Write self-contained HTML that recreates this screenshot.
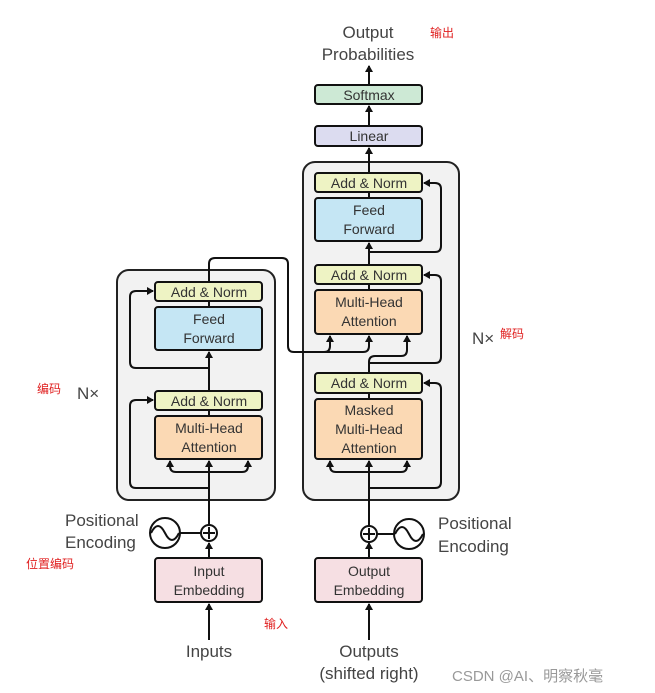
<!DOCTYPE html>
<html><head><meta charset="utf-8"><style>
html,body{margin:0;padding:0;background:#fff;}
svg{display:block;}
text{font-family:"Liberation Sans","Noto Sans CJK SC",sans-serif;}
</style></head><body>
<svg width="655" height="693" viewBox="0 0 655 693" xmlns="http://www.w3.org/2000/svg">
<defs>
<marker id="a" markerWidth="8" markerHeight="8" refX="6" refY="4" orient="auto" markerUnits="userSpaceOnUse">
<path d="M0,0 L7,4 L0,8 Z" fill="#111"/></marker>
</defs>
<!-- blocks -->
<rect x="117" y="270" width="158" height="230" rx="12" fill="#f2f2f2" stroke="#222" stroke-width="2"/>
<rect x="303" y="162" width="156" height="338" rx="12" fill="#f2f2f2" stroke="#222" stroke-width="2"/>
<g stroke="#111" stroke-width="2" fill="none">
<!-- encoder -->
<line x1="209" y1="640" x2="209" y2="604" marker-end="url(#a)"/>
<line x1="209" y1="558" x2="209" y2="543" marker-end="url(#a)"/>
<line x1="180" y1="533" x2="201" y2="533"/>
<line x1="209" y1="525" x2="209" y2="461" marker-end="url(#a)"/>
<path d="M170,462 L170,466 Q170,472 176,472 L242,472 Q248,472 248,466 L248,462"/>
<line x1="170" y1="466" x2="170" y2="461" marker-end="url(#a)"/>
<line x1="248" y1="466" x2="248" y2="461" marker-end="url(#a)"/>
<path d="M209,488 L136,488 Q130,488 130,482 L130,406 Q130,400 136,400 L153,400" marker-end="url(#a)"/>
<line x1="209" y1="416" x2="209" y2="410"/>
<line x1="209" y1="391" x2="209" y2="352" marker-end="url(#a)"/>
<path d="M209,368 L136,368 Q130,368 130,362 L130,297 Q130,291 136,291 L153,291" marker-end="url(#a)"/>
<line x1="209" y1="307" x2="209" y2="301"/>
<path d="M209,282 L209,264 Q209,258 215,258 L282,258 Q288,258 288,264 L288,346 Q288,352 294,352 L324,352 Q330,352 330,346 L330,336" marker-end="url(#a)"/>
<path d="M324,352 L363,352 Q369,352 369,346 L369,336" marker-end="url(#a)"/>
<!-- decoder -->
<line x1="369" y1="640" x2="369" y2="604" marker-end="url(#a)"/>
<line x1="369" y1="558" x2="369" y2="543" marker-end="url(#a)"/>
<line x1="377" y1="534" x2="394" y2="534"/>
<line x1="369" y1="526" x2="369" y2="461" marker-end="url(#a)"/>
<path d="M330,462 L330,466 Q330,472 336,472 L401,472 Q407,472 407,466 L407,462"/>
<line x1="330" y1="466" x2="330" y2="461" marker-end="url(#a)"/>
<line x1="407" y1="466" x2="407" y2="461" marker-end="url(#a)"/>
<path d="M369,488 L435,488 Q441,488 441,482 L441,389 Q441,383 435,383 L424,383" marker-end="url(#a)"/>
<line x1="369" y1="399" x2="369" y2="393"/>
<path d="M369,373 L369,362 Q369,356 375,356 L401,356 Q407,356 407,350 L407,336" marker-end="url(#a)"/>
<path d="M369,363 L435,363 Q441,363 441,357 L441,281 Q441,275 435,275 L424,275" marker-end="url(#a)"/>
<line x1="369" y1="290" x2="369" y2="284"/>
<line x1="369" y1="265" x2="369" y2="243" marker-end="url(#a)"/>
<path d="M369,252 L435,252 Q441,252 441,246 L441,189 Q441,183 435,183 L424,183" marker-end="url(#a)"/>
<line x1="369" y1="198" x2="369" y2="192"/>
<line x1="369" y1="173" x2="369" y2="148" marker-end="url(#a)"/>
<line x1="369" y1="126" x2="369" y2="106" marker-end="url(#a)"/>
<line x1="369" y1="85" x2="369" y2="66" marker-end="url(#a)"/>
<!-- pos enc -->
<circle cx="209" cy="533" r="8" fill="#fff"/>
<line x1="203" y1="533" x2="215" y2="533"/><line x1="209" y1="527" x2="209" y2="539"/>
<circle cx="165" cy="533" r="15" fill="#fff"/>
<path d="M151,533 Q158,519 165,533 Q172,547 179,533"/>
<circle cx="369" cy="534" r="8" fill="#fff"/>
<line x1="363" y1="534" x2="375" y2="534"/><line x1="369" y1="528" x2="369" y2="540"/>
<circle cx="409" cy="534" r="15" fill="#fff"/>
<path d="M395,534 Q402,520 409,534 Q416,548 423,534"/>
</g>
<g stroke="#111" stroke-width="2">
<rect x="155" y="282" width="107" height="19" rx="3" fill="#eef3c4"/>
<rect x="155" y="307" width="107" height="43" rx="3" fill="#c5e6f4"/>
<rect x="155" y="391" width="107" height="19" rx="3" fill="#eef3c4"/>
<rect x="155" y="416" width="107" height="43" rx="3" fill="#fbd9b4"/>
<rect x="315" y="173" width="107" height="19" rx="3" fill="#eef3c4"/>
<rect x="315" y="198" width="107" height="43" rx="3" fill="#c5e6f4"/>
<rect x="315" y="265" width="107" height="19" rx="3" fill="#eef3c4"/>
<rect x="315" y="290" width="107" height="44" rx="3" fill="#fbd9b4"/>
<rect x="315" y="373" width="107" height="20" rx="3" fill="#eef3c4"/>
<rect x="315" y="399" width="107" height="60" rx="3" fill="#fbd9b4"/>
<rect x="315" y="126" width="107" height="20" rx="3" fill="#dcdcf0"/>
<rect x="315" y="85" width="107" height="19" rx="3" fill="#cde9d5"/>
<rect x="155" y="558" width="107" height="44" rx="3" fill="#f6dfe3"/>
<rect x="315" y="558" width="107" height="44" rx="3" fill="#f6dfe3"/>
</g>
<g fill="#333" font-size="14" text-anchor="middle">
<text x="209" y="297">Add &amp; Norm</text>
<text x="209" y="324">Feed</text><text x="209" y="343">Forward</text>
<text x="209" y="406">Add &amp; Norm</text>
<text x="209" y="433">Multi-Head</text><text x="209" y="452">Attention</text>
<text x="369" y="188">Add &amp; Norm</text>
<text x="369" y="215">Feed</text><text x="369" y="234">Forward</text>
<text x="369" y="280">Add &amp; Norm</text>
<text x="369" y="307">Multi-Head</text><text x="369" y="326">Attention</text>
<text x="369" y="388">Add &amp; Norm</text>
<text x="369" y="415">Masked</text><text x="369" y="434">Multi-Head</text><text x="369" y="453">Attention</text>
<text x="369" y="141">Linear</text>
<text x="369" y="100">Softmax</text>
<text x="209" y="576">Input</text><text x="209" y="595">Embedding</text>
<text x="369" y="576">Output</text><text x="369" y="595">Embedding</text>
</g>
<g fill="#444" font-size="17">
<text x="368" y="38" text-anchor="middle">Output</text>
<text x="368" y="60" text-anchor="middle">Probabilities</text>
<text x="209" y="657" text-anchor="middle">Inputs</text>
<text x="369" y="657" text-anchor="middle">Outputs</text>
<text x="369" y="679" text-anchor="middle">(shifted right)</text>
<text x="65" y="526">Positional</text>
<text x="65" y="548">Encoding</text>
<text x="438" y="529">Positional</text>
<text x="438" y="552">Encoding</text>
<text x="77" y="399">N×</text>
<text x="472" y="344">N×</text>
</g>
<g fill="#e02020" font-size="12">
<text x="430" y="37">输出</text>
<text x="500" y="338">解码</text>
<text x="37" y="393">编码</text>
<text x="26" y="568">位置编码</text>
<text x="264" y="628">输入</text>
</g>
<text x="452" y="681" fill="#999" font-size="15">CSDN @AI、明察秋毫</text>
</svg>
</body></html>
